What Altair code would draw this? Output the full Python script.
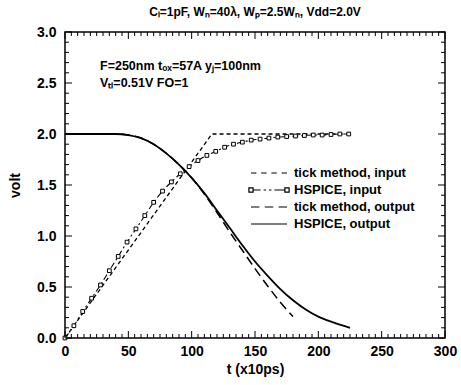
import altair as alt
import pandas as pd

W, H = 380, 306
FONT = "Liberation Sans"

series_names = ["tick method, input", "HSPICE, input", "tick method, output", "HSPICE, output"]

tick_in_t = [0, 116, 225]
tick_in_v = [0.0, 2.0, 2.0]

hs_in_t = [0, 7, 14, 21, 28, 35, 42, 49, 56, 63, 70, 77, 84, 91, 98, 105, 112,
           119, 126, 133, 140, 147, 154, 161, 168, 175, 182, 189, 196, 203, 210, 217, 224]
hs_in_v = [0.0, 0.12, 0.26, 0.39, 0.52, 0.66, 0.80, 0.94, 1.07, 1.20, 1.33, 1.44, 1.53,
           1.61, 1.68, 1.74, 1.79, 1.83, 1.87, 1.90, 1.92, 1.94, 1.95, 1.96, 1.97, 1.975,
           1.98, 1.985, 1.99, 1.99, 1.995, 2.0, 2.0]

tick_out_t = [0, 20, 40, 50, 60, 70, 80, 90, 100, 110, 120, 130, 140, 150, 160, 170, 180]
tick_out_v = [2.0, 2.0, 2.0, 1.99, 1.96, 1.9, 1.81, 1.7, 1.57, 1.41, 1.23, 1.04, 0.86,
              0.68, 0.51, 0.35, 0.21]

hs_out_t = [0, 20, 40, 50, 60, 70, 80, 90, 100, 110, 120, 130, 140, 150, 160, 170, 180,
            190, 200, 210, 225]
hs_out_v = [2.0, 2.0, 2.0, 1.99, 1.96, 1.9, 1.81, 1.7, 1.57, 1.42, 1.25, 1.08, 0.91,
            0.75, 0.61, 0.48, 0.37, 0.28, 0.21, 0.16, 0.1]

x_major = [0, 50, 100, 150, 200, 250, 300]
x_minor = [t for t in range(5, 300, 5) if t % 50 != 0]
y_major = [0.0, 0.5, 1.0, 1.5, 2.0, 2.5, 3.0]
y_minor = [round(i * 0.1, 1) for i in range(1, 30) if i % 5 != 0]

title_text = "C\u2097=1pF, W\u2099=40\u03bb, W\u209a=2.5W\u2099, Vdd=2.0V"
note1 = "F=250nm t\u2092\u2093=57A y\u2c7c=100nm"
note2 = "V\u209c\u2097=0.51V FO=1"

rows = []
for name, ts, vs in zip(series_names,
                        [tick_in_t, hs_in_t, tick_out_t, hs_out_t],
                        [tick_in_v, hs_in_v, tick_out_v, hs_out_v]):
    for t, v in zip(ts, vs):
        rows.append({"t": t, "v": v, "series": name})
df = pd.DataFrame(rows)

x_scale = alt.Scale(domain=[0, 300], nice=False, zero=False)
y_scale = alt.Scale(domain=[0, 3], nice=False, zero=False)
x_axis = alt.Axis(values=x_major, ticks=False, tickSize=0, domain=False, grid=False,
                  labelFont=FONT, labelFontSize=14, labelFontWeight="bold", labelColor="black",
                  labelPadding=6, labelFlush=False, title="t (x10ps)", titleFont=FONT,
                  titleFontSize=14, titleFontWeight="bold", titleColor="black", titlePadding=4)
y_axis = alt.Axis(values=y_major, format=".1f", ticks=False, tickSize=0, domain=False, grid=False,
                  labelFont=FONT, labelFontSize=14, labelFontWeight="bold", labelColor="black",
                  labelPadding=9, labelFlush=False, title="volt", titleFont=FONT,
                  titleFontSize=14, titleFontWeight="bold", titleColor="black", titlePadding=14)

X = alt.X("t:Q", scale=x_scale, axis=x_axis)
Y = alt.Y("v:Q", scale=y_scale, axis=y_axis)

base = alt.Chart(df)

styles = {
    "tick method, input": dict(strokeDash=[4, 3], strokeWidth=1.3, interpolate="linear"),
    "HSPICE, input": dict(strokeDash=[6, 3, 2, 3], strokeWidth=1.1, interpolate="monotone"),
    "tick method, output": dict(strokeDash=[9, 5], strokeWidth=1.5, interpolate="monotone"),
    "HSPICE, output": dict(strokeWidth=1.8, interpolate="monotone"),
}

layers = []
for name in series_names:
    layers.append(
        base.transform_filter(alt.datum.series == name)
        .mark_line(color="black", **styles[name])
        .encode(x=X, y=Y)
    )

points = (
    base.transform_filter(alt.datum.series == "HSPICE, input")
    .mark_square(size=14, fill="white", stroke="black", strokeWidth=1, opacity=1)
    .encode(x=X, y=Y)
)

legend_paths = [
    "M-3,0H-2.1M-1.3,0H-0.4M0.4,0H1.3M2.1,0H3",
    "M-3.35,-0.35H-2.65V0.35H-3.35ZM-2.65,0H-1.4M-0.9,0H-0.5M0,0H0.4M0.9,0H2.65M2.65,-0.35H3.35V0.35H2.65Z",
    "M-3,0H-1.6M-0.7,0H0.7M1.6,0H3",
    "M-3,0H3",
]

legend_layer = (
    base.transform_filter("false")
    .mark_point(filled=False, color="black", strokeWidth=1.2)
    .encode(
        shape=alt.Shape(
            "series:N",
            scale=alt.Scale(domain=series_names, range=legend_paths),
            legend=alt.Legend(
                title=None, orient="none", legendX=197, legendY=134,
                labelFont=FONT, labelFontSize=13, labelFontWeight="bold", labelColor="black",
                labelOffset=18, labelLimit=300, symbolSize=144, symbolStrokeWidth=1.2,
                symbolStrokeColor="black", symbolFillColor="white", symbolOpacity=1,
                rowPadding=3, padding=0,
            ),
        )
    )
)

tick_layers = []
for vals, length in [(x_major, 7), (x_minor, 4)]:
    d = pd.DataFrame({"t": vals})
    tick_layers.append(alt.Chart(d).mark_rule(color="black", strokeWidth=1).encode(
        x=X, y=alt.value(H), y2=alt.value(H - length)))
    tick_layers.append(alt.Chart(d).mark_rule(color="black", strokeWidth=1).encode(
        x=X, y=alt.value(0), y2=alt.value(length)))
for vals, length in [(y_major, 7), (y_minor, 4)]:
    d = pd.DataFrame({"v": vals})
    tick_layers.append(alt.Chart(d).mark_rule(color="black", strokeWidth=1).encode(
        y=Y, x=alt.value(0), x2=alt.value(length)))
    tick_layers.append(alt.Chart(d).mark_rule(color="black", strokeWidth=1).encode(
        y=Y, x=alt.value(W), x2=alt.value(W - length)))

notes = alt.Chart(pd.DataFrame({"txt": [note1]})).mark_text(
    align="left", baseline="middle", x=35, y=34, font=FONT, fontSize=12.5,
    fontWeight="bold", color="black").encode(text="txt:N")
notes2 = alt.Chart(pd.DataFrame({"txt": [note2]})).mark_text(
    align="left", baseline="middle", x=35, y=51, font=FONT, fontSize=12.5,
    fontWeight="bold", color="black").encode(text="txt:N")

chart = alt.layer(*layers, points, legend_layer, *tick_layers, notes, notes2).properties(
    width=W, height=H,
    title=alt.Title(title_text, font=FONT, fontSize=12, fontWeight="bold", color="black",
                    offset=6, anchor="middle"),
    autosize=alt.AutoSizeParams(type="none"),
    padding={"left": 65, "top": 32, "right": 16, "bottom": 47},
    background="white",
).configure_view(stroke="black", strokeWidth=1.5)

chart.save("out.html", embed_options={"renderer": "svg", "actions": False})
